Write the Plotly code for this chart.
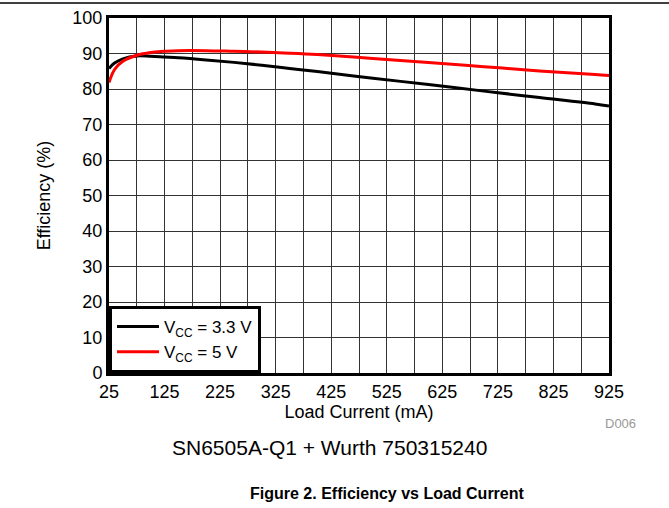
import plotly.graph_objects as go

load_ma = [25, 35, 50, 75, 100, 125, 150, 200, 250, 300, 350, 400, 500, 600, 700, 800, 900, 925]
eff_33v = [85.8, 87.3, 88.5, 89.3, 89.2, 89.0, 88.8, 88.2, 87.5, 86.7, 85.8, 84.9, 83.0, 81.3, 79.4, 77.6, 75.8, 75.2]
eff_5v = [81.8, 85.5, 87.8, 89.5, 90.3, 90.6, 90.8, 90.8, 90.6, 90.4, 90.1, 89.7, 88.6, 87.5, 86.3, 85.1, 84.1, 83.8]
x_ticks = [25, 125, 225, 325, 425, 525, 625, 725, 825, 925]
y_ticks = [0, 10, 20, 30, 40, 50, 60, 70, 80, 90, 100]

FONT = "Liberation Sans, Arial, sans-serif"

# plot area in pixels: x 109..609, y 18..373
def px(xp):
    return (xp - 109) / 500

def py(yp):
    return (373 - yp) / 355

fig = go.Figure()
fig.add_trace(go.Scatter(x=load_ma, y=eff_33v, mode="lines", line=dict(color="black", width=3, shape="spline"),
                         name="V<sub>CC</sub> = 3.3 V"))
fig.add_trace(go.Scatter(x=load_ma, y=eff_5v, mode="lines", line=dict(color="#ff0000", width=3, shape="spline"),
                         name="V<sub>CC</sub> = 5 V"))

fig.update_layout(
    width=669, height=508,
    margin=dict(l=109, r=60, t=18, b=135),
    plot_bgcolor="white", paper_bgcolor="white",
    font=dict(family=FONT, size=18, color="black"),
    showlegend=True,
    legend=dict(x=0, y=0, xanchor="left", yanchor="bottom", bordercolor="black", borderwidth=3,
                bgcolor="white", font=dict(size=17), tracegroupgap=0, itemwidth=42),
    xaxis=dict(range=[25, 925], tickvals=x_ticks, showgrid=True, gridcolor="#333", gridwidth=1,
               minor=dict(tick0=25, dtick=50, showgrid=True, gridcolor="#333", gridwidth=1),
               showline=True, linecolor="black", linewidth=3, mirror=True, ticks="",
               title=dict(text="Load Current (mA)", standoff=0, font=dict(size=18)), zeroline=False,
               automargin=False),
    yaxis=dict(range=[0, 100], tickvals=y_ticks, showgrid=True, gridcolor="#333", gridwidth=1,
               showline=True, linecolor="black", linewidth=3, mirror=True, ticks="",
               title=dict(text="Efficiency (%)", standoff=18, font=dict(size=18)), zeroline=False,
               automargin=False),
    annotations=[
        dict(text="D006", x=px(620), xref="paper", y=py(423), yref="paper", showarrow=False,
             xanchor="center", yanchor="middle", font=dict(size=13, color="#999")),
        dict(text="SN6505A-Q1 + Wurth 750315240", x=px(329), xref="paper", y=py(447),
             yref="paper", showarrow=False, xanchor="center", yanchor="middle", font=dict(size=21)),
        dict(text="<b>Figure 2. Efficiency vs Load Current</b>", x=px(387), xref="paper",
             y=py(493), yref="paper", showarrow=False, xanchor="center", yanchor="middle",
             font=dict(size=16)),
    ],
    shapes=[dict(type="line", xref="paper", yref="paper", x0=px(0), x1=px(669),
                 y0=py(3), y1=py(3), line=dict(color="black", width=1.5))],
)

fig.write_html("out.html", config={"displayModeBar": False},
               post_script="document.body.style.margin='0';document.body.style.padding='0';")
